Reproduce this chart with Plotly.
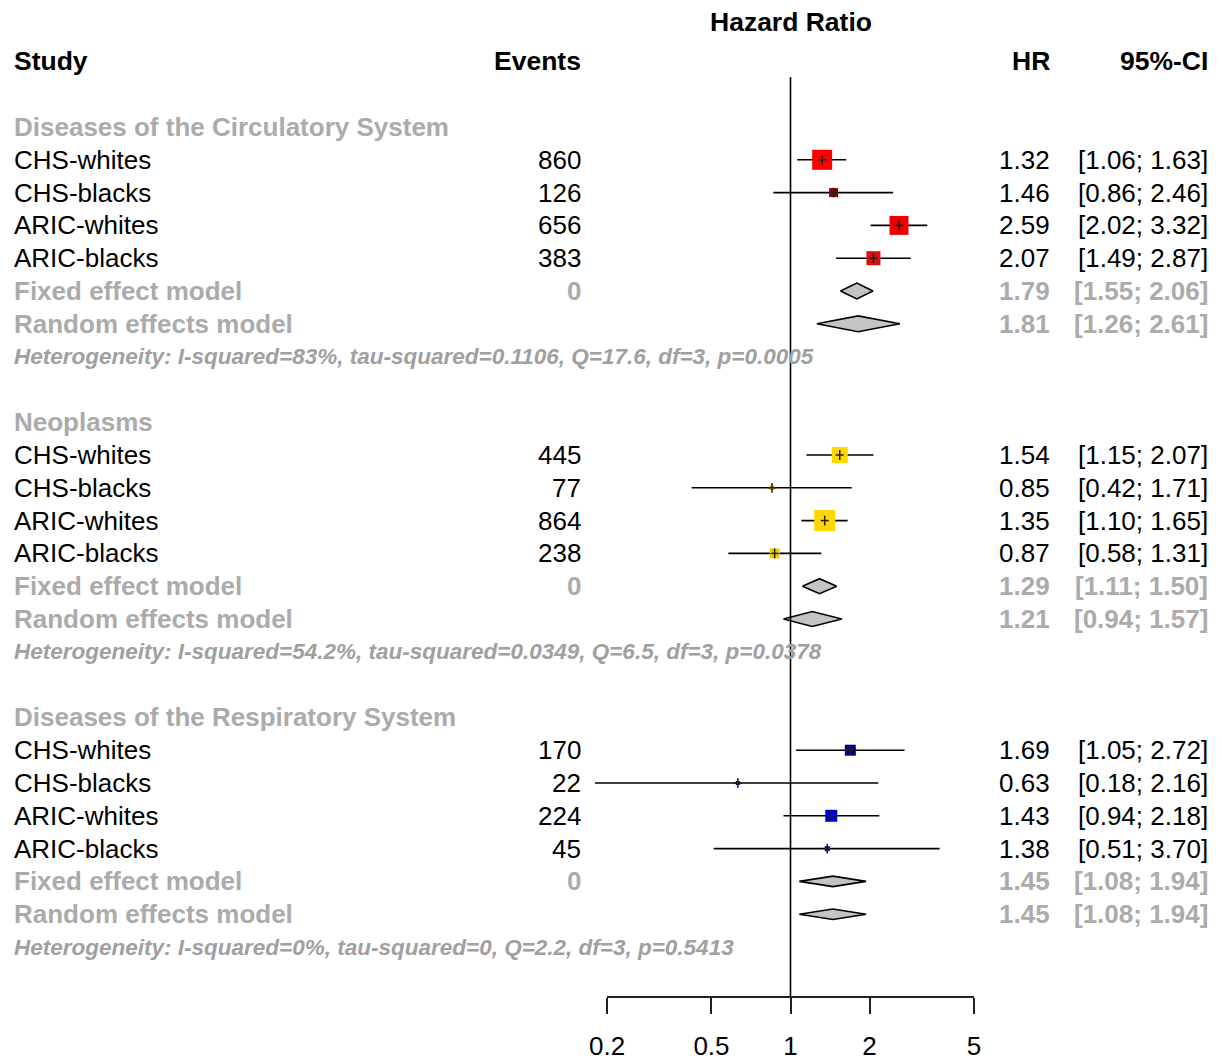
import plotly.graph_objects as go
import math

# ---------------- data ----------------
groups = ["Diseases of the Circulatory System", "Neoplasms", "Diseases of the Respiratory System"]
studies = ["CHS-whites", "CHS-blacks", "ARIC-whites", "ARIC-blacks"]
events = [[860, 126, 656, 383], [445, 77, 864, 238], [170, 22, 224, 45]]
hr = [[1.32, 1.46, 2.59, 2.07], [1.54, 0.85, 1.35, 0.87], [1.69, 0.63, 1.43, 1.38]]
ci_lo = [[1.06, 0.86, 2.02, 1.49], [1.15, 0.42, 1.10, 0.58], [1.05, 0.18, 0.94, 0.51]]
ci_hi = [[1.63, 2.46, 3.32, 2.87], [2.07, 1.71, 1.65, 1.31], [2.72, 2.16, 2.18, 3.70]]
fixed_hr = [1.79, 1.29, 1.45]
fixed_lo = [1.55, 1.11, 1.08]
fixed_hi = [2.06, 1.50, 1.94]
random_hr = [1.81, 1.21, 1.45]
random_lo = [1.26, 0.94, 1.08]
random_hi = [2.61, 1.57, 1.94]
heterogeneity = [
    "Heterogeneity: I-squared=83%, tau-squared=0.1106, Q=17.6, df=3, p=0.0005",
    "Heterogeneity: I-squared=54.2%, tau-squared=0.0349, Q=6.5, df=3, p=0.0378",
    "Heterogeneity: I-squared=0%, tau-squared=0, Q=2.2, df=3, p=0.5413",
]
tick_vals = [0.2, 0.5, 1, 2, 5]
tick_text = ["0.2", "0.5", "1", "2", "5"]

# ---------------- styles ----------------
sq_size = [[20, 9, 19, 14], [16, 5, 21, 10], [11, 4, 12, 5]]
sq_color = [["#FF0000", "#8B0000", "#EE0000", "#D81010"],
            ["#FFD700", "#E8C200", "#FFD700", "#F5CC00"],
            ["#00008B", "#000060", "#0000CD", "#00007A"]]
dia_half = [0.24, 0.23, 0.16]
GRAY = "#ABABAB"
HGRAY = "#A0A0A0"
FONT = "Liberation Sans, Arial, Helvetica, sans-serif"
FS = 26
W, H = 1222, 1061
PX_ROW = 32.8
ROW0_PX = 61.4
X1_PX = 790.5
PX_DEC = 262.5

def row_of(px):
    return (px - ROW0_PX) / PX_ROW

fig = go.Figure()

annots = []
def txt(x_px, row, s, anchor="left", color="black", size=FS, bold=False, italic=False):
    if bold:
        s = "<b>" + s + "</b>"
    if italic:
        s = "<i>" + s + "</i>"
    annots.append(dict(x=x_px / W, y=row, xref="paper", yref="y", text=s, showarrow=False,
                       xanchor=anchor, yanchor="middle",
                       font=dict(family=FONT, size=size, color=color)))

# headers
txt(X1_PX, row_of(22), "Hazard Ratio", anchor="center", bold=True, size=26.5)
txt(12, 0, "Study", bold=True, size=26.5)
txt(583, 0, "Events", anchor="right", bold=True, size=26.5)
txt(1052, 0, "HR", anchor="right", bold=True, size=26.5)
txt(1210, 0, "95%-CI", anchor="right", bold=True, size=26.5)

tk_x, tk_y = [], []
for g in range(3):
    base = g * 9 + 2
    txt(12, base, groups[g], color=GRAY, bold=True)
    ci_x, ci_y = [], []
    sx, sy, ss, sc = [], [], [], []
    for i in range(4):
        r = base + 1 + i
        txt(12, r, studies[i])
        txt(583, r, str(events[g][i]), anchor="right")
        txt(1052, r, f"{hr[g][i]:.2f}", anchor="right")
        txt(1210, r, f"[{ci_lo[g][i]:.2f}; {ci_hi[g][i]:.2f}]", anchor="right")
        ci_x += [ci_lo[g][i], ci_hi[g][i], None]
        ci_y += [r, r, None]
        sx.append(hr[g][i]); sy.append(r); ss.append(sq_size[g][i]); sc.append(sq_color[g][i])
        # small cross at estimate
        d = 0.15
        tk_x += [hr[g][i], hr[g][i], None]
        tk_y += [r - d, r + d, None]
        f = 10 ** (4.0 / PX_DEC)
        tk_x += [hr[g][i] / f, hr[g][i] * f, None]
        tk_y += [r, r, None]
    fig.add_trace(go.Scatter(x=ci_x, y=ci_y, mode="lines", line=dict(color="black", width=1.6),
                             hoverinfo="skip", showlegend=False))
    fig.add_trace(go.Scatter(x=sx, y=sy, mode="markers",
                             marker=dict(symbol="square", size=ss, color=sc, opacity=1,
                                         line=dict(width=0)),
                             hoverinfo="skip", showlegend=False))
    # fixed / random rows
    rf = base + 5
    rr = base + 6
    txt(12, rf, "Fixed effect model", color=GRAY, bold=True)
    txt(583, rf, "0", anchor="right", color=GRAY, bold=True)
    txt(1052, rf, f"{fixed_hr[g]:.2f}", anchor="right", color=GRAY, bold=True)
    txt(1210, rf, f"[{fixed_lo[g]:.2f}; {fixed_hi[g]:.2f}]", anchor="right", color=GRAY, bold=True)
    txt(12, rr, "Random effects model", color=GRAY, bold=True)
    txt(1052, rr, f"{random_hr[g]:.2f}", anchor="right", color=GRAY, bold=True)
    txt(1210, rr, f"[{random_lo[g]:.2f}; {random_hi[g]:.2f}]", anchor="right", color=GRAY, bold=True)
    txt(12, base + 7, heterogeneity[g], color=HGRAY, bold=True, italic=True, size=22.5)
    h = dia_half[g]
    for (e, l, u, r) in [(fixed_hr[g], fixed_lo[g], fixed_hi[g], rf),
                         (random_hr[g], random_lo[g], random_hi[g], rr)]:
        fig.add_trace(go.Scatter(x=[l, e, u, e, l], y=[r, r - h, r, r + h, r], mode="lines",
                                 fill="toself", fillcolor="#C4C4C4",
                                 line=dict(color="black", width=1.6),
                                 hoverinfo="skip", showlegend=False))

fig.add_trace(go.Scatter(x=tk_x, y=tk_y, mode="lines", line=dict(color="#202020", width=1.5),
                         hoverinfo="skip", showlegend=False))

# reference line at HR = 1
fig.add_shape(type="line", x0=1, x1=1, y0=row_of(77), y1=row_of(997), xref="x", yref="y",
              line=dict(color="black", width=1.6))

# invisible trace for bottom axis
fig.add_trace(go.Scatter(x=[1], y=[row_of(997)], xaxis="x2", yaxis="y", mode="markers",
                         marker=dict(opacity=0), hoverinfo="skip", showlegend=False))

lo_dec = (0 - X1_PX) / PX_DEC
hi_dec = (W - X1_PX) / PX_DEC
ax_l = X1_PX + PX_DEC * math.log10(tick_vals[0])
ax_r = X1_PX + PX_DEC * math.log10(tick_vals[-1])

fig.update_layout(
    width=W, height=H, margin=dict(l=0, r=0, t=0, b=0, pad=0, autoexpand=False),
    paper_bgcolor="white", plot_bgcolor="rgba(0,0,0,0)",
    xaxis=dict(type="log", range=[lo_dec, hi_dec], domain=[0, 1], visible=False, fixedrange=True,
               automargin=False),
    xaxis2=dict(type="log", anchor="free", position=(H - 997) / H,
                domain=[ax_l / W, ax_r / W], range=[math.log10(tick_vals[0]), math.log10(tick_vals[-1])],
                tickmode="array", tickvals=tick_vals, ticktext=tick_text,
                ticks="outside", ticklen=16, tickwidth=2, tickcolor="#222",
                showline=True, linewidth=2, linecolor="#222", showgrid=False, zeroline=False,
                tickfont=dict(family=FONT, size=26, color="black"), ticklabelstandoff=10,
                fixedrange=True, automargin=False),
    yaxis=dict(range=[row_of(H), row_of(0)], domain=[0, 1], visible=False, fixedrange=True,
               automargin=False),
    annotations=annots,
)

fig.write_html("out.html", config={"displayModeBar": False},
               post_script="document.body.style.margin='0';")
